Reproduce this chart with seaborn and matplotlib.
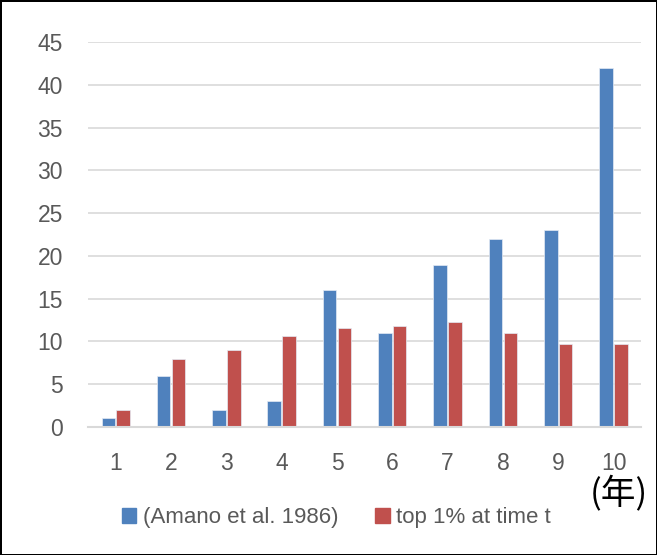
import pandas as pd
import seaborn as sns
import matplotlib.pyplot as plt
from matplotlib.patches import Patch

# ====================== DATA ======================
years = ["1", "2", "3", "4", "5", "6", "7", "8", "9", "10"]
amano = [1, 6, 2, 3, 16, 11, 19, 22, 23, 42]
top1 = [2.0, 7.9, 9.0, 10.7, 11.6, 11.8, 12.3, 11.0, 9.7, 9.7]
series_names = ["(Amano et al. 1986)", "top 1% at time t"]
colors = ["#4F81BD", "#C0504D"]

df = pd.DataFrame({
    "year": years * 2,
    "value": amano + top1,
    "series": [series_names[0]] * len(years) + [series_names[1]] * len(years),
})

# ====================== PLOT ======================
sns.set_style("white")
plt.rcParams["font.family"] = ["Liberation Sans", "Noto Sans CJK JP", "DejaVu Sans"]

fig = plt.figure(figsize=(6.57, 5.55), dpi=100, edgecolor="black", linewidth=2)
ax = fig.add_axes([0.134, 0.2306, 0.842, 0.6934])

sns.barplot(data=df, x="year", y="value", hue="series", palette=colors,
            saturation=1, width=0.54, gap=0.1, edgecolor="#e4ebf5", linewidth=0.5,
            legend=False, ax=ax)

ax.set_ylim(0, 45)
ax.set_xlim(-0.5, 9.5)
ax.set_yticks(range(0, 50, 5))
ax.yaxis.grid(True, color="#D9D9D9", linewidth=1.2)
ax.set_axisbelow(True)
for s in ["top", "right", "left"]:
    ax.spines[s].set_visible(False)
ax.spines["bottom"].set_color("#D9D9D9")
ax.spines["bottom"].set_linewidth(1.5)
ax.tick_params(axis="both", length=0, labelsize=16.5, labelcolor="#595959")
ax.tick_params(axis="x", pad=18)
ax.tick_params(axis="y", pad=18)
ax.set_xlabel("")
ax.set_ylabel("")

fig.text(0.942, 0.11, "(年)", fontsize=25, color="black",
         family=["Noto Sans CJK JP", "DejaVu Sans"], ha="center", va="center")

handles = [Patch(color=c) for c in colors]
fig.legend(handles, series_names, loc="center", bbox_to_anchor=(0.512, 0.0676),
           ncol=2, frameon=False, fontsize=16, handlelength=0.65, handleheight=0.65,
           handletextpad=0.3, columnspacing=1.65, labelcolor="#595959")

fig.savefig("out.png", dpi=100)
